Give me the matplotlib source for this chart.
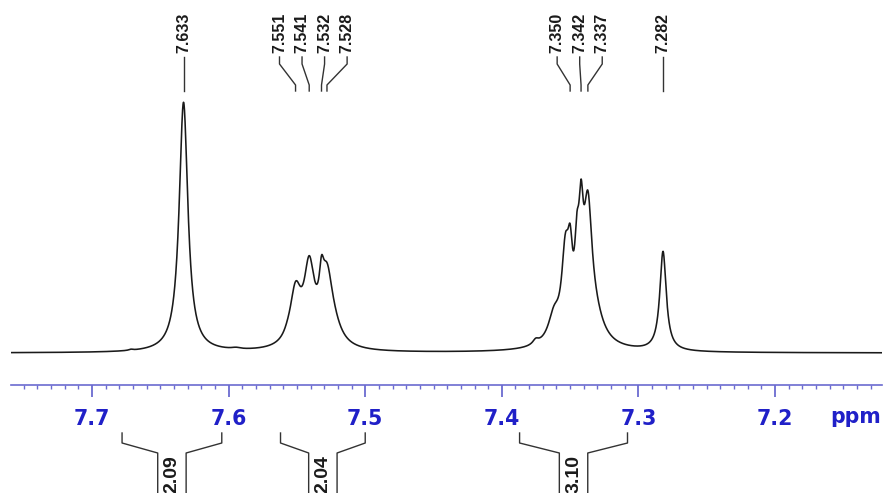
import numpy as np
import matplotlib
matplotlib.use('Agg')
import matplotlib.pyplot as plt
from matplotlib.ticker import MultipleLocator

# ---- data ----
# Lorentzian lines (centre ppm, height above baseline, half-width ppm)
peak_ppm = [7.6330, 7.6715, 7.5945,
            7.5510, 7.5410, 7.5320, 7.5280, 7.5569, 7.5234, 7.5391,
            7.3500, 7.3420, 7.3370, 7.3535, 7.3450, 7.3320, 7.3618, 7.3752, 7.3450,
            7.2820]
peak_height = [250.0, 1.0, 1.4,
               53.0, 70.0, 33.4, 61.9, 2.1, 13.6, 4.9,
               57.4, 87.0, 120.9, 77.6, 60.4, 21.2, 25.5, 4.8, 6.0,
               99.4]
peak_width = [0.00385, 0.00180, 0.00400,
              0.00494, 0.00450, 0.00200, 0.00501, 0.00331, 0.00738, 0.00782,
              0.00213, 0.00199, 0.00371, 0.00323, 0.00200, 0.00783, 0.00506, 0.00260, 0.02203,
              0.00284]

peak_groups = [[7.633], [7.551, 7.541, 7.532, 7.528], [7.350, 7.342, 7.337], [7.282]]
int_ranges = [(7.678, 7.605), (7.562, 7.500), (7.387, 7.308)]
int_values = ['2.09', '2.04', '3.10']
tick_vals = [7.7, 7.6, 7.5, 7.4, 7.3, 7.2]
tick_labels = ['7.7', '7.6', '7.5', '7.4', '7.3', '7.2']

C = np.array(peak_ppm); H = np.array(peak_height); G = np.array(peak_width)

def spectrum(x):
    return (H[None, :] * G[None, :]**2 / ((x[:, None] - C[None, :])**2 + G[None, :]**2)).sum(1)

LABFONT = 'Liberation Sans'
BLUE = '#2020c8'
AXBLUE = '#6b6bd0'
INK = '#1a1a1a'

fig = plt.figure(figsize=(8.84, 4.93), dpi=100)
ax = fig.add_axes([11/884, (493-385)/493, 871/884, 385/493])
xs = np.linspace(7.7593, 7.1217, 6000)
ax.plot(xs, spectrum(xs), color=INK, lw=1.15)
ax.set_xlim(7.7593, 7.1217)
ax.set_ylim(-32, 353)
for s in ['top', 'left', 'right']:
    ax.spines[s].set_visible(False)
ax.spines['bottom'].set_color(AXBLUE)
ax.spines['bottom'].set_linewidth(1.2)
ax.set_yticks([])
ax.set_xticks(tick_vals, labels=tick_labels, fontweight='bold', fontsize=14.8,
              color=BLUE, family='DejaVu Sans')
ax.xaxis.set_minor_locator(MultipleLocator(0.01))
ax.tick_params(axis='x', which='major', direction='out', length=8.5, width=1.3, color=AXBLUE, pad=9)
ax.tick_params(axis='x', which='minor', direction='out', length=3, width=1.0, color=AXBLUE)
fig.text(881/884, 1-417/493, 'ppm', ha='right', va='center', color=BLUE,
         fontsize=14.8, fontweight='bold', family='DejaVu Sans')

# peak labels with connector lines
sp = 0.0165
for grp in peak_groups:
    m = np.mean(grp); k = len(grp)
    for i, v in enumerate(grp):
        lx = m + ((k-1)/2 - i)*sp
        ax.text(lx, 300, f"{v:.3f}", rotation=90, ha='center', va='bottom',
                fontsize=11.5, fontweight='bold', family=LABFONT, color=INK)
        ax.plot([lx, lx, v, v], [296, 289, 268, 262], color='#333333', lw=1.0, clip_on=False)

# integration brackets
hw = 0.0104
for (a, b), val in zip(int_ranges, int_values):
    mid = (a + b)/2
    ax.plot([a, a, mid+hw, mid+hw], [-80, -90, -100, -150], color='#333333', lw=1.0, clip_on=False)
    ax.plot([b, b, mid-hw, mid-hw], [-80, -90, -100, -150], color='#333333', lw=1.0, clip_on=False)
    ax.text(mid, -102, val, rotation=90, ha='center', va='top', fontsize=14,
            fontweight='bold', family=LABFONT, color=INK, clip_on=False)

fig.savefig('out.png', dpi=100)
